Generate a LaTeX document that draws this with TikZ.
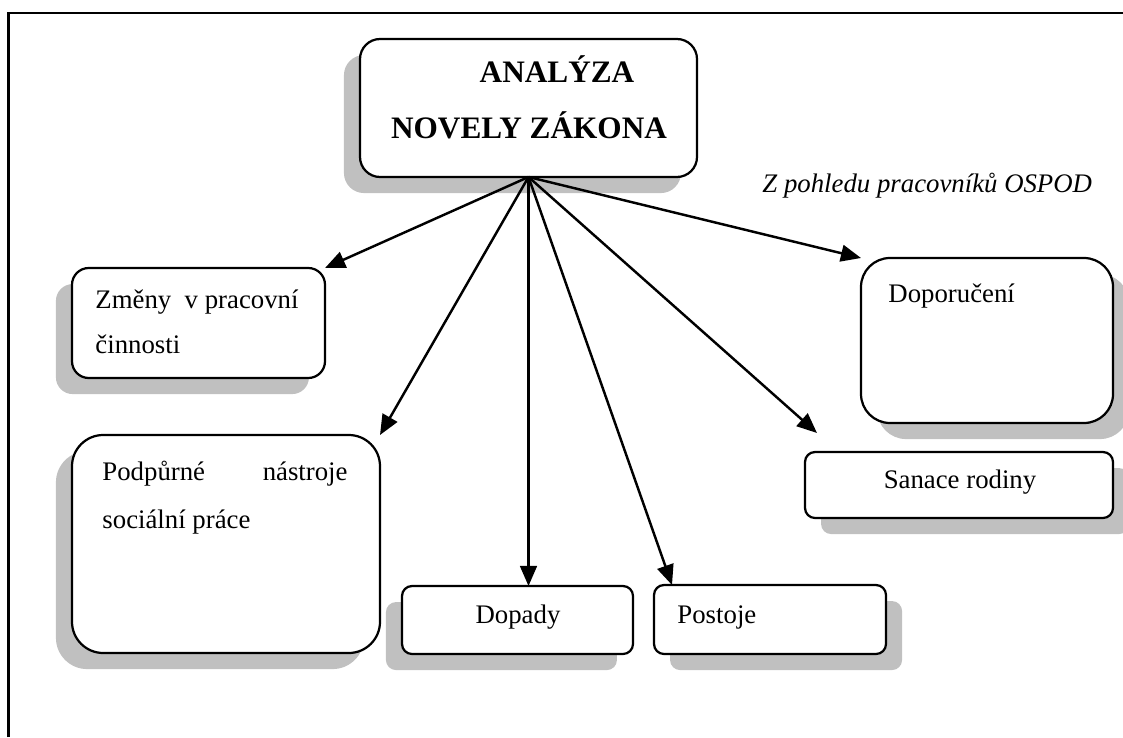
\documentclass[tikz,border=0pt]{standalone}
\usepackage{fontspec}
\setmainfont{Liberation Serif}
\usetikzlibrary{arrows.meta,shadows}
\definecolor{shadowgray}{RGB}{192,192,192}
\begin{document}
\begin{tikzpicture}[x=0.448pt,y=-0.448pt,
  box/.style={draw, line width=1pt, fill=white, inner sep=0pt, outer sep=0pt},
  shL/.style={copy shadow={shadow xshift=-7.2pt, shadow yshift=-7.2pt, fill=shadowgray, draw=none}},
  shR/.style={copy shadow={shadow xshift=7.2pt, shadow yshift=-7.2pt, fill=shadowgray, draw=none}},
  txt/.style={anchor=base west, inner sep=0pt, font=\fontsize{12}{14}\selectfont},
  ctxt/.style={anchor=base, inner sep=0pt, font=\fontsize{12}{14}\selectfont},
  ttl/.style={anchor=base, inner sep=0pt, font=\fontsize{14}{16}\selectfont\bfseries},
  conn/.style={line width=1.1pt, -{Triangle[length=9pt,width=7.5pt]}},
  frame/.style={line width=1pt}
]
\useasboundingbox (0,0) rectangle (1123,737);
% outer frame (left and top only)
\coordinate (fb) at (8.5,737);
\coordinate (fc) at (8.5,13);
\coordinate (fr) at (1123,13);
\draw[frame] (fb) -- (fc) -- (fr);

% boxes
\node[box, shL, rounded corners=9pt, minimum width=337*0.448pt, minimum height=138*0.448pt] (main) at (528.5,108) {};
\node[box, shL, rounded corners=7.5pt, minimum width=253*0.448pt, minimum height=110*0.448pt] (zmeny) at (198.5,323) {};
\node[box, shL, rounded corners=14pt, minimum width=308*0.448pt, minimum height=218*0.448pt] (podp) at (226,544) {};
\node[box, shL, rounded corners=4.5pt, minimum width=231*0.448pt, minimum height=68*0.448pt] (dopady) at (517.5,620) {};
\node[box, shR, rounded corners=4.5pt, minimum width=232*0.448pt, minimum height=69*0.448pt] (postoje) at (770,619.5) {};
\node[box, shR, rounded corners=13pt, minimum width=252*0.448pt, minimum height=165*0.448pt] (dopor) at (987,340.5) {};
\node[box, shR, rounded corners=4.5pt, minimum width=308*0.448pt, minimum height=66*0.448pt] (sanace) at (959,485) {};

% texts
\node[ttl] (t1) at (557,83) {ANALÝZA};
\node[ttl] (t2) at (529,138) {NOVELY ZÁKONA};
\node[txt] (t3) at (95,308) {Změny~~v pracovní};
\node[txt] (t4) at (95,353) {činnosti};
\node[txt] (t5) at (102,480) {Podpůrné};
\node[txt, anchor=base east] (t6) at (348,480) {nástroje};
\node[txt] (t7) at (102,528) {sociální práce};
\node[ctxt] (t8) at (518,623) {Dopady};
\node[txt] (t9) at (677,623) {Postoje};
\node[txt] (t10) at (888,302) {Doporučení};
\node[ctxt] (t11) at (960,488) {Sanace rodiny};
\node[txt, font=\fontsize{12}{14}\selectfont\itshape] (t12) at (762,192) {Z pohledu pracovníků OSPOD};

% connectors
\draw[conn] (main.south) -- (zmeny.north east);
\draw[conn] (main.south) -- (podp.north east);
\draw[conn] (main.south) -- (main.south |- dopady.north);
\draw[conn] (main.south) -- ([shift={(18,0)}]postoje.north west);
\draw[conn] (main.south) -- ([shift={(12,-19)}]sanace.north west);
\draw[conn] (main.south) -- (dopor.north west);
\end{tikzpicture}
\end{document}
